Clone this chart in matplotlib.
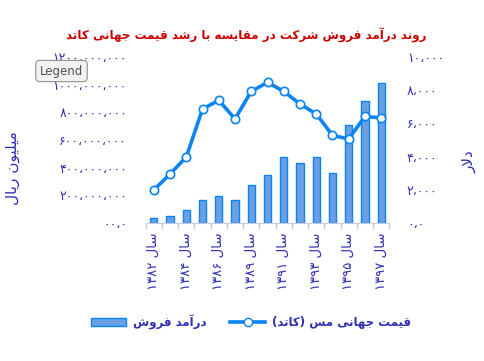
import re
import matplotlib
matplotlib.use("Agg")
import matplotlib.pyplot as plt
import numpy as np
from matplotlib.patches import Patch
from matplotlib.lines import Line2D

# minimal persian shaping (matplotlib has no bidi / shaping)
FORMS = {
    '\u0627': ('\uFE8D', '\uFE8E', None, None),
    '\u0622': ('\uFE81', '\uFE82', None, None),
    '\u0628': ('\uFE8F', '\uFE90', '\uFE91', '\uFE92'),
    '\u062A': ('\uFE95', '\uFE96', '\uFE97', '\uFE98'),
    '\u062C': ('\uFE9D', '\uFE9E', '\uFE9F', '\uFEA0'),
    '\u062F': ('\uFEA9', '\uFEAA', None, None),
    '\u0631': ('\uFEAD', '\uFEAE', None, None),
    '\u0632': ('\uFEAF', '\uFEB0', None, None),
    '\u0633': ('\uFEB1', '\uFEB2', '\uFEB3', '\uFEB4'),
    '\u0634': ('\uFEB5', '\uFEB6', '\uFEB7', '\uFEB8'),
    '\u0641': ('\uFED1', '\uFED2', '\uFED3', '\uFED4'),
    '\u0642': ('\uFED5', '\uFED6', '\uFED7', '\uFED8'),
    '\u06A9': ('\uFB8E', '\uFB8F', '\uFB90', '\uFB91'),
    '\u0644': ('\uFEDD', '\uFEDE', '\uFEDF', '\uFEE0'),
    '\u0645': ('\uFEE1', '\uFEE2', '\uFEE3', '\uFEE4'),
    '\u0646': ('\uFEE5', '\uFEE6', '\uFEE7', '\uFEE8'),
    '\u0647': ('\uFEE9', '\uFEEA', '\uFEEB', '\uFEEC'),
    '\u0648': ('\uFEED', '\uFEEE', None, None),
    '\u06CC': ('\uFBFC', '\uFBFD', '\uFBFE', '\uFBFF'),
}


def jtype(c):
    if c in FORMS:
        return 'D' if FORMS[c][2] else 'R'
    return 'U'


def fa(s):
    res = []
    i = 0
    while i < len(s):
        c = s[i]
        if c not in FORMS:
            res.append(c)
            i += 1
            continue
        jp = i > 0 and jtype(s[i - 1]) == 'D'
        if c == '\u0644' and i + 1 < len(s) and s[i + 1] == '\u0627':
            res.append('\uFEFC' if jp else '\uFEFB')
            i += 2
            continue
        nxt = s[i + 1] if i + 1 < len(s) else ''
        jn = jtype(c) == 'D' and jtype(nxt) in 'DR'
        iso, fin, ini, med = FORMS[c]
        res.append(med if jp and jn else fin if jp else ini if jn else iso)
        i += 1
    toks = re.findall(r'[0-9\u06F0-\u06F9]+|.', ''.join(res))
    mirror = {'(': ')', ')': '('}
    return ''.join(mirror.get(t, t) for t in reversed(toks))


years = ['۱۳۸۲', '۱۳۸۳', '۱۳۸۴', '۱۳۸۵', '۱۳۸۶', '۱۳۸۷', '۱۳۸۹', '۱۳۹۰',
         '۱۳۹۱', '۱۳۹۲', '۱۳۹۳', '۱۳۹۴', '۱۳۹۵', '۱۳۹۶', '۱۳۹۷']
revenue = [36e6, 53e6, 95e6, 167e6, 196e6, 167e6, 276e6, 349e6,
           480e6, 436e6, 480e6, 364e6, 705e6, 880e6, 1010e6]
copper = [1990, 2950, 3980, 6870, 7390, 6270, 7930, 8470,
          7930, 7170, 6570, 5280, 5060, 6420, 6330]

left_ticks = [0, 200e6, 400e6, 600e6, 800e6, 1000e6, 1200e6]
left_labels = ['۰۰،۰', '۲۰۰،۰۰۰،۰۰۰', '۴۰۰،۰۰۰،۰۰۰', '۶۰۰،۰۰۰،۰۰۰',
               '۸۰۰،۰۰۰،۰۰۰', '۱۰۰۰،۰۰۰،۰۰۰', '۱۲۰۰،۰۰۰،۰۰۰']
right_ticks = [0, 2000, 4000, 6000, 8000, 10000]
right_labels = ['۰،۰', '۲،۰۰۰', '۴،۰۰۰', '۶،۰۰۰', '۸،۰۰۰', '۱۰،۰۰۰']

title = 'روند درآمد فروش شرکت در مقایسه با رشد قیمت جهانی کاتد'
bar_name = 'درآمد فروش'
line_name = 'قیمت جهانی مس (کاتد)'
left_title = 'میلیون ریال'
right_title = 'دلار'

txt = '#3030b4'
line_c = '#0a84f5'
bar_c = '#6aa0e2'

fig = plt.figure(figsize=(4.84, 3.61), dpi=100)
ax = fig.add_axes([145.7 / 484, 1 - 223 / 361, (389.3 - 145.7) / 484, (223 - 57) / 361])
x = np.arange(len(years))
ax.bar(x, revenue, width=0.45, color=bar_c, edgecolor=line_c, linewidth=1)
ax.set_xlim(-0.5, len(years) - 0.5)
ax.set_ylim(0, 1200e6)
ax.set_yticks(left_ticks)
ax.set_yticklabels(left_labels, color=txt, fontsize=9)
ax.tick_params(axis='y', length=0, pad=13.5)

ax.set_xticks(x[::2])
ax.set_xticklabels([fa('سال ' + y) for y in years[::2]], rotation=90,
                   color=txt, fontsize=9.5)
ax.set_xticks(np.arange(-0.5, len(years)), minor=True)
ax.tick_params(axis='x', which='major', length=0, pad=7)
ax.tick_params(axis='x', which='minor', length=4, color='#c8c8e8', width=1)
for s in ['top', 'left', 'right']:
    ax.spines[s].set_visible(False)
ax.spines['bottom'].set_color('#c8c8e8')

ax2 = ax.twinx()
ax2.plot(x, copper, color=line_c, linewidth=2.6, marker='o', markersize=6,
         markerfacecolor='white', markeredgecolor=line_c, markeredgewidth=1.2)
ax2.set_ylim(0, 10000)
ax2.set_yticks(right_ticks)
ax2.set_yticklabels(right_labels, color=txt, fontsize=9)
ax2.tick_params(axis='y', length=0, pad=12.7)
for s in ax2.spines.values():
    s.set_visible(False)

fig.text(246 / 484, 1 - 35 / 361, fa(title), ha='center', va='center',
         color='#cc0000', fontsize=8.6, fontweight='bold')
fig.text(13 / 484, 1 - 168 / 361, fa(left_title), rotation=90, ha='center',
         va='center', color=txt, fontsize=11)
fig.text(469 / 484, 1 - 162 / 361, fa(right_title), rotation=90, ha='center',
         va='center', color=txt, fontsize=11)

handles = [Patch(facecolor=bar_c, edgecolor=line_c),
           Line2D([], [], color=line_c, linewidth=2.6, marker='o', markersize=6,
                  markerfacecolor='white', markeredgecolor=line_c)]
leg = fig.legend(handles, [fa(bar_name), fa(line_name)], loc='center',
                 bbox_to_anchor=(251 / 484, 1 - 322 / 361), ncol=2, frameon=False,
                 handlelength=3.0, handletextpad=0.55, columnspacing=2.0,
                 fontsize=8.5)
for t in leg.get_texts():
    t.set_color(txt)
    t.set_fontweight('bold')

fig.text(61.5 / 484, 1 - 71 / 361, 'Legend', ha='center', va='center',
         fontsize=8.5, color='#505050',
         bbox=dict(boxstyle='round,pad=0.35', facecolor='#f2f2f2',
                   edgecolor='#909090', linewidth=0.8))

fig.savefig('out.png', dpi=100)
